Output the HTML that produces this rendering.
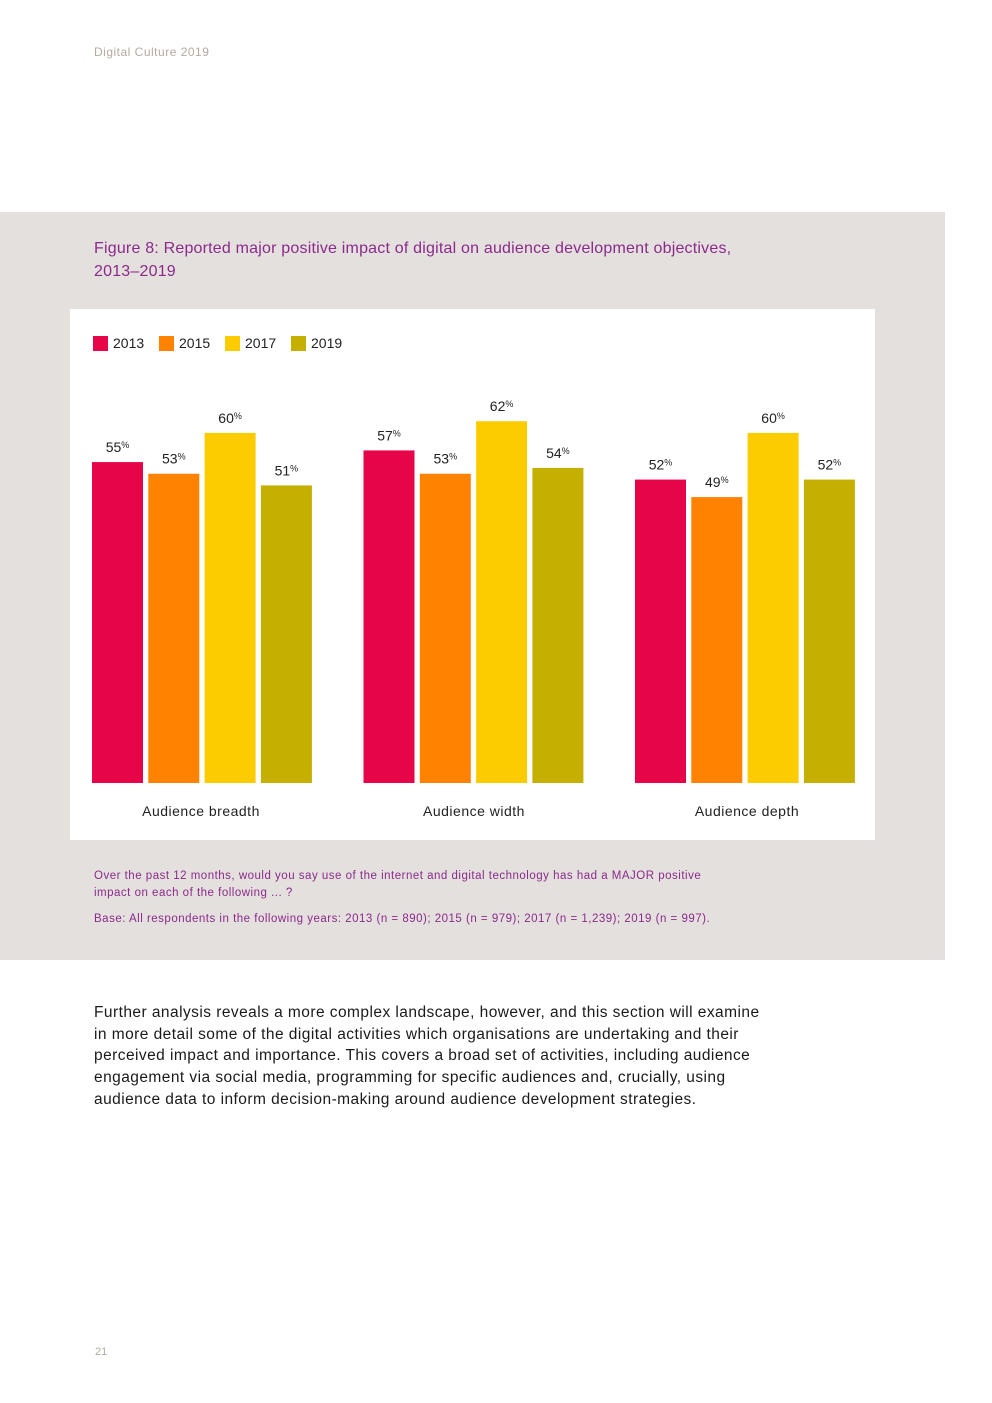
<!DOCTYPE html>
<html><head><meta charset="utf-8"><style>
body{margin:0;width:992px;height:1403px;background:#fff;position:relative;font-family:"Liberation Sans",sans-serif;overflow:hidden}
.a{position:absolute}
</style></head><body>
<div class="a" style="left:94px;top:45px;font-size:12px;color:#b5ab9f;letter-spacing:0.5px">Digital Culture 2019</div>
<div class="a" style="left:0;top:212px;width:945px;height:748px;background:#e4e0dd"></div>
<div class="a" style="left:94px;top:237px;font-size:16px;line-height:23px;color:#8b2a8c;white-space:nowrap;letter-spacing:0.2px">Figure 8: Reported major positive impact of digital on audience development objectives,<br>2013–2019</div>
<div class="a" style="left:70px;top:309px;width:805px;height:531px;background:#fff"></div>
<svg class="a" style="left:0;top:0" width="992" height="1403" id="chart"></svg>
<div class="a" style="left:94px;top:868px;font-size:11.5px;line-height:17px;color:#8b2a8c;white-space:nowrap;letter-spacing:0.5px">Over the past 12 months, would you say use of the internet and digital technology has had a MAJOR positive<br>impact on each of the following ... ?</div>
<div class="a" style="left:94px;top:913px;font-size:11.5px;color:#8b2a8c;letter-spacing:0.5px">Base: All respondents in the following years: 2013 (n = 890); 2015 (n = 979); 2017 (n = 1,239); 2019 (n = 997).</div>
<div class="a" style="left:94px;top:1002px;font-size:15.5px;line-height:21.7px;color:#1a1a1a;white-space:nowrap;letter-spacing:0.45px">Further analysis reveals a more complex landscape, however, and this section will examine<br>in more detail some of the digital activities which organisations are undertaking and their<br>perceived impact and importance. This covers a broad set of activities, including audience<br>engagement via social media, programming for specific audiences and, crucially, using<br>audience data to inform decision-making around audience development strategies.</div>
<div class="a" style="left:95px;top:1346px;font-size:11px;color:#b5ab9f">21</div>
<script>
const categories=["Audience breadth","Audience width","Audience depth"];
const years=["2013","2015","2017","2019"];
const colors=["#e60548","#ff8200","#fccc00","#c5af00"];
const v2013=[55,57,52];
const v2015=[53,53,49];
const v2017=[60,62,60];
const v2019=[51,54,52];
const series=[v2013,v2015,v2017,v2019];
const svg=document.getElementById('chart');
const NS="http://www.w3.org/2000/svg";
const base=783,scale=5.835;
const y=v=>base-v*scale;
const gx=i=>92+i*271.5;
const bx=j=>j*56.3;
function mk(t,a){const e=document.createElementNS(NS,t);for(const k in a)e.setAttribute(k,a[k]);svg.appendChild(e);return e;}
years.forEach((yr,j)=>{
  const lx=93+j*66;
  const r=mk('rect',{x:lx,y:336,width:15,height:15,fill:colors[j]});
  
  
  const t=mk('text',{x:lx+20,y:348,'font-size':14,fill:'#222','font-family':'Liberation Sans, sans-serif'});
  t.textContent=yr;
  
  
});
categories.forEach((c,i)=>{
  series.forEach((s,j)=>{
    const x=gx(i)+bx(j),v=s[i];
    const r=mk('rect',{x:x,y:y(v),width:51,height:base-y(v),fill:colors[j]});
    
    
    const t=mk('text',{x:x+25.5,y:y(v)-10,'font-size':14,fill:'#222','text-anchor':'middle','font-family':'Liberation Sans, sans-serif'});
    t.innerHTML=v+'<tspan font-size="9" dy="-4">%</tspan>';
    
    
  });
  const t=mk('text',{x:gx(i)+109+i*1.5,y:816,'font-size':14,fill:'#222','text-anchor':'middle','font-family':'Liberation Sans, sans-serif','letter-spacing':'0.5'});
  t.textContent=c;
  
  
});
</script>
</body></html>
